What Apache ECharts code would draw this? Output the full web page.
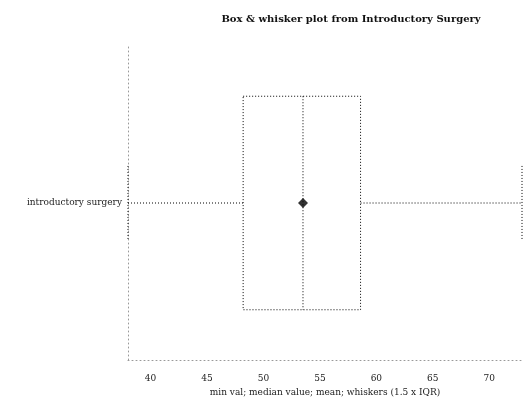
<!DOCTYPE html>
<html>
<head>
<meta charset="utf-8">
<script src="https://cdn.jsdelivr.net/npm/echarts@6/dist/echarts.min.js"></script>
<style>
  html, body { margin: 0; padding: 0; background: #fff; }
  #chart { width: 526px; height: 406px; }
</style>
</head>
<body>
<div id="chart"></div>
<script>
// Summary of procedure durations (minutes) for one surgery group
const categories = ['introductory surgery'];
const whiskerLow = [38.0];
const quartile1 = [48.2];
const medians = [53.5];
const quartile3 = [58.6];
const whiskerHigh = [72.9];
const means = [53.5];
const tickLabels = [40, 45, 50, 55, 60, 65, 70];

const boxData = categories.map((c, i) => [i, whiskerLow[i], quartile1[i], medians[i], quartile3[i], whiskerHigh[i]]);
const meanData = categories.map((c, i) => [means[i], i]);

const ink = '#000';
const dotted = [1, 2];

function renderBox(params, api) {
  const idx = api.value(0);
  const lo = api.value(1), q1 = api.value(2), med = api.value(3), q3 = api.value(4), hi = api.value(5);
  const band = api.size([0, 1])[1];
  const half = band * 0.34;
  const capHalf = band * 0.118;
  const pLo = api.coord([lo, idx]);
  const pQ1 = api.coord([q1, idx]);
  const pMed = api.coord([med, idx]);
  const pQ3 = api.coord([q3, idx]);
  const pHi = api.coord([hi, idx]);
  const y = pMed[1];
  const style = { stroke: ink, lineWidth: 1, lineDash: dotted, fill: null };
  const line = (x1, y1, x2, y2) => ({ type: 'line', shape: { x1, y1, x2, y2 }, style });
  return {
    type: 'group',
    children: [
      { type: 'rect', shape: { x: pQ1[0], y: y - half, width: pQ3[0] - pQ1[0], height: half * 2 }, style },
      line(pMed[0], y - half, pMed[0], y + half),
      line(pLo[0], y, pQ1[0], y),
      line(pQ3[0], y, pHi[0], y),
      line(pLo[0], y - capHalf, pLo[0], y + capHalf),
      line(pHi[0], y - capHalf, pHi[0], y + capHalf)
    ]
  };
}

const chart = echarts.init(document.getElementById('chart'));
const labelFont = { fontFamily: 'DejaVu Serif', fontSize: 9, color: '#222' };

chart.setOption({
  animation: false,
  backgroundColor: '#fff',
  title: {
    text: 'Box & whisker plot from Introductory Surgery',
    left: 346, top: 9, textAlign: 'center',
    textStyle: { fontFamily: 'DejaVu Serif', fontWeight: 'bold', fontSize: 10, color: '#111' }
  },
  grid: { left: 128, right: 4, top: 46, bottom: 46 },
  xAxis: {
    type: 'value',
    min: whiskerLow[0], max: whiskerHigh[0],
    interval: 5,
    name: 'min val; median value; mean; whiskers (1.5 x IQR)',
    nameLocation: 'middle', nameGap: 28,
    nameTextStyle: labelFont,
    axisLine: { show: true, lineStyle: { color: '#999', type: [1, 3] } },
    axisTick: { show: false },
    splitLine: { show: false },
    axisLabel: {
      ...labelFont, margin: 14,
      customValues: tickLabels,
      formatter: v => String(v)
    }
  },
  yAxis: {
    type: 'category',
    data: categories,
    axisLine: { show: true, lineStyle: { color: '#999', type: [1, 3] } },
    axisTick: { show: false },
    axisLabel: { ...labelFont, margin: 6 }
  },
  series: [
    {
      type: 'custom',
      renderItem: renderBox,
      encode: { x: [1, 2, 3, 4, 5], y: 0 },
      data: boxData,
      z: 2
    },
    {
      type: 'scatter',
      data: meanData,
      symbol: 'diamond',
      symbolSize: 10,
      itemStyle: { color: '#000' },
      z: 3
    }
  ]
});
</script>
</body>
</html>
